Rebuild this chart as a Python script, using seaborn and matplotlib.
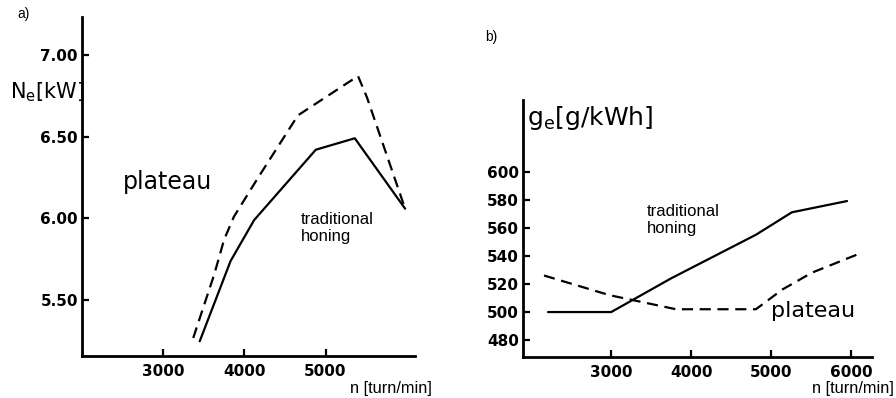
import matplotlib
matplotlib.use("Agg")
import matplotlib.pyplot as plt
import seaborn as sns
import pandas as pd

# ---- data ----
a_plateau_n = [3370, 3630, 3750, 3870, 4170, 4660, 5400, 5510, 5980]
a_plateau_N = [5.27, 5.66, 5.87, 6.01, 6.25, 6.63, 6.87, 6.74, 6.06]
a_trad_n = [3450, 3830, 4120, 4880, 5360, 5980]
a_trad_N = [5.25, 5.74, 5.99, 6.42, 6.49, 6.06]

b_trad_n = [2210, 3000, 3750, 4810, 5260, 5950]
b_trad_g = [500, 500, 524, 555, 571, 579]
b_plateau_n = [2160, 2980, 3810, 4810, 5140, 5510, 6080]
b_plateau_g = [526, 512, 502, 502, 516, 528, 541]

a_xticks = [3000, 4000, 5000]
a_yticks = [5.5, 6.0, 6.5, 7.0]
a_yticklabels = ["5.50", "6.00", "6.50", "7.00"]
b_xticks = [3000, 4000, 5000, 6000]
b_yticks = [480, 500, 520, 540, 560, 580, 600]

sns.set_theme(style="ticks")
plt.rcParams["font.family"] = ["DejaVu Sans"]
plt.rcParams["text.color"] = "black"
plt.rcParams["mathtext.default"] = "regular"

fig = plt.figure(figsize=(8.96, 3.98), dpi=100)
axa = fig.add_axes([0.0915, 0.1055, 0.3715, 0.8515])
axb = fig.add_axes([0.584, 0.103, 0.389, 0.646])

dfa_p = pd.DataFrame({"n": a_plateau_n, "v": a_plateau_N})
dfa_t = pd.DataFrame({"n": a_trad_n, "v": a_trad_N})
dfb_p = pd.DataFrame({"n": b_plateau_n, "v": b_plateau_g})
dfb_t = pd.DataFrame({"n": b_trad_n, "v": b_trad_g})

dash = (0, (5, 3))
sns.lineplot(data=dfa_p, x="n", y="v", ax=axa, sort=False, estimator=None,
             color="black", lw=1.6, linestyle=dash)
sns.lineplot(data=dfa_t, x="n", y="v", ax=axa, sort=False, estimator=None,
             color="black", lw=1.6)
sns.lineplot(data=dfb_p, x="n", y="v", ax=axb, sort=False, estimator=None,
             color="black", lw=1.6, linestyle=dash)
sns.lineplot(data=dfb_t, x="n", y="v", ax=axb, sort=False, estimator=None,
             color="black", lw=1.6)

for ax in (axa, axb):
    sns.despine(ax=ax)
    for s in ("left", "bottom"):
        ax.spines[s].set_linewidth(2)
        ax.spines[s].set_color("black")
    ax.set_xlabel("")
    ax.set_ylabel("")
    ax.tick_params(direction="in", length=5, width=1.6, color="black",
                   labelsize=11, labelcolor="black")
    ax.tick_params(axis="y", pad=3)
    ax.tick_params(axis="x", pad=6)

axa.set_xlim(2000, 6100)
axa.set_ylim(5.16, 7.23)
axa.set_xticks(a_xticks)
axa.set_yticks(a_yticks)
axa.set_yticklabels(a_yticklabels, fontweight="bold")
axa.set_xticklabels([str(t) for t in a_xticks], fontweight="bold")

axb.set_xlim(1900, 6260)
axb.set_ylim(468, 651)
axb.set_xticks(b_xticks)
axb.set_yticks(b_yticks)
axb.set_xticklabels([str(t) for t in b_xticks], fontweight="bold")
axb.set_yticklabels([str(t) for t in b_yticks], fontweight="bold")

lib = ["Liberation Sans", "DejaVu Sans"]
# panel a texts
fig.text(17 / 896, 1 - 14 / 398, "a)", fontsize=10, family=lib, va="center")
fig.text(10 / 896, 1 - 92 / 398, r"$N_e[kW]$", fontsize=15,
         va="center", ha="left")
axa.text(2500, 6.22, "plateau", fontsize=17, va="center", ha="left")
axa.text(4700, 6.04, "traditional\nhoning", fontsize=12, family=lib,
         va="top", ha="left", linespacing=1.15)
fig.text(391 / 896, 1 - 388 / 398, "n [turn/min]", fontsize=11.8, family=lib,
         ha="center", va="center")

# panel b texts
fig.text(485 / 896, 1 - 37 / 398, "b)", fontsize=10, family=lib, va="center")
fig.text(527 / 896, 1 - 118 / 398, r"$g_e[g/kWh]$", fontsize=18,
         va="center", ha="left")
axb.text(3450, 577, "traditional\nhoning", fontsize=12, family=lib,
         va="top", ha="left", linespacing=1.15)
axb.text(5000, 501, "plateau", fontsize=16, va="center", ha="left")
fig.text(894 / 896, 1 - 388 / 398, "n [turn/min]", fontsize=11.8, family=lib,
         ha="right", va="center")

fig.savefig("out.png", dpi=100, facecolor="white")
